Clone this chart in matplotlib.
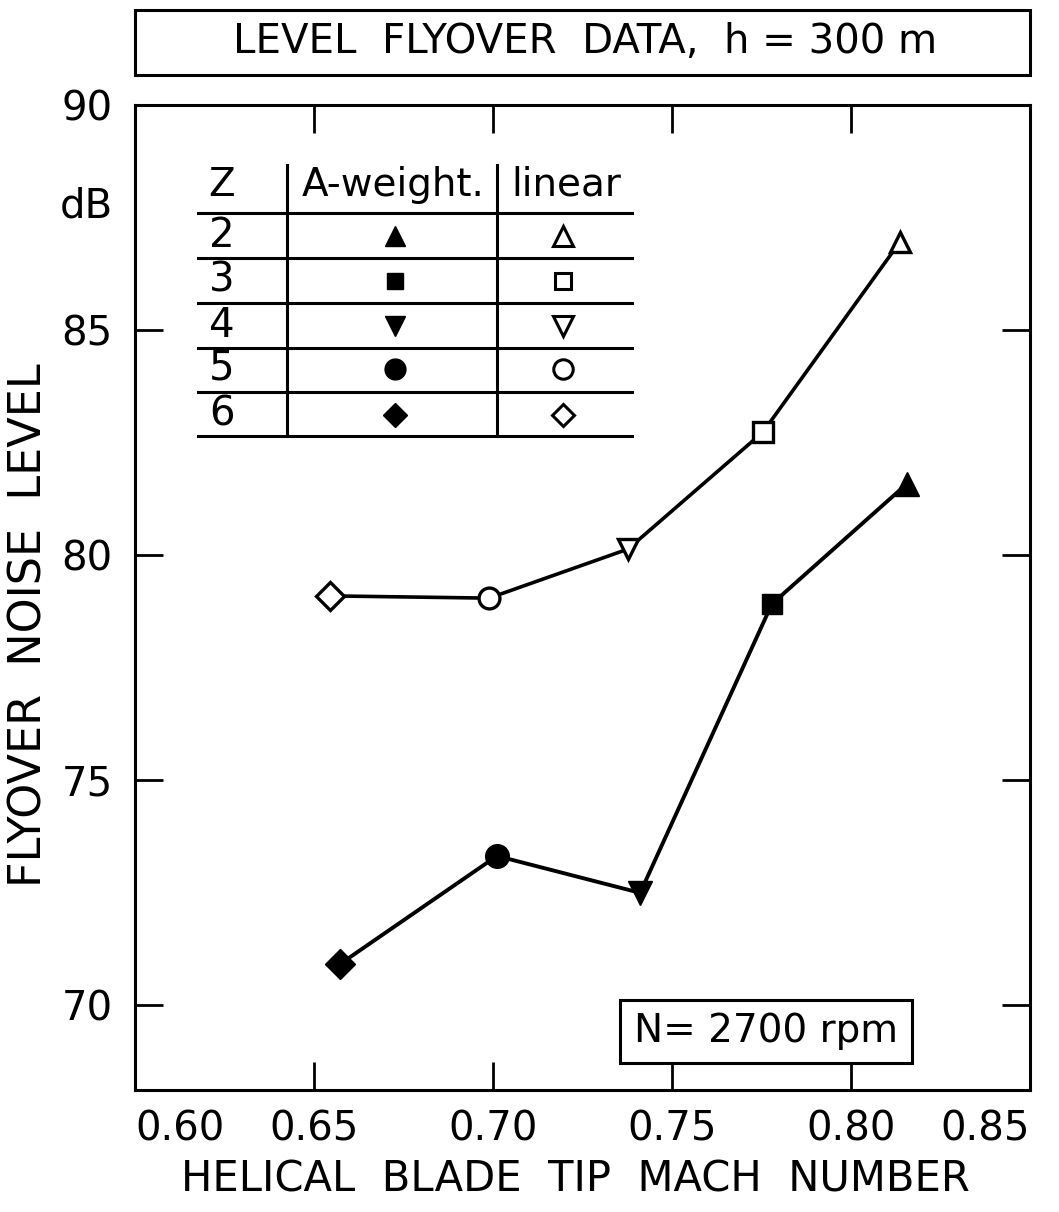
import matplotlib
matplotlib.use("Agg")
import matplotlib.pyplot as plt
from matplotlib.patches import Rectangle

plt.rcParams['font.family'] = ['DejaVu Sans']

# Number of blades Z for each rotor configuration
z_values = [6, 5, 4, 3, 2]
markers = ['D', 'o', 'v', 's', '^']

# Helical blade tip Mach number and flyover noise level (dB)
mach_linear = [0.6545, 0.6989, 0.7377, 0.7754, 0.8137]
level_linear = [79.09, 79.04, 80.13, 82.73, 86.96]
mach_aweight = [0.6573, 0.7011, 0.7411, 0.7779, 0.8156]
level_aweight = [70.91, 73.31, 72.49, 78.91, 81.58]

x_ticks = [0.60, 0.65, 0.70, 0.75, 0.80, 0.85]
x_tick_labels = ['0.60', '0.65', '0.70', '0.75', '0.80', '0.85']
y_ticks = [70, 75, 80, 85, 90]
y_tick_labels = ['70', '75', '80', '85', '90']

fig = plt.figure(figsize=(10.59, 12.12), dpi=100)
ax = fig.add_axes([0.1275, 0.1007, 0.8451, 0.8127])
ax.set_xlim(0.60, 0.85)
ax.set_ylim(68.11, 90)

for s in ax.spines.values():
    s.set_linewidth(2.2)

# Data lines and markers
ax.plot(mach_linear, level_linear, color='black', lw=2.6, zorder=2)
ax.plot(mach_aweight, level_aweight, color='black', lw=2.8, zorder=2)
for xv, yv, m in zip(mach_linear, level_linear, markers):
    ms = 14 if m in 'Ds' else 15
    ax.plot(xv, yv, marker=m, ms=ms, mfc='white', mec='black', mew=2.4, zorder=3)
for xv, yv, m in zip(mach_aweight, level_aweight, markers):
    ms = 15 if m in 'Ds' else 17
    ax.plot(xv, yv, marker=m, ms=ms, mfc='black', mec='black', mew=1, zorder=3)

# Ticks
tick_font = dict(fontsize=29)
ax.set_xticks(x_ticks)
ax.set_xticklabels(x_tick_labels, **tick_font)
ax.set_yticks(y_ticks)
ax.set_yticklabels(y_tick_labels, **tick_font)
labels = ax.get_xticklabels()
labels[0].set_horizontalalignment('left')
labels[-1].set_horizontalalignment('right')
ax.tick_params(axis='both', direction='in', length=20, width=2.0,
               top=True, right=True)
ax.tick_params(axis='x', pad=14)
ax.tick_params(axis='y', pad=16)
# frame corners carry no tick marks
for t in ax.xaxis.get_major_ticks():
    if abs(t.get_loc() - 0.60) < 1e-6 or abs(t.get_loc() - 0.85) < 1e-6:
        t.tick1line.set_visible(False)
        t.tick2line.set_visible(False)
for t in ax.yaxis.get_major_ticks():
    if abs(t.get_loc() - 90) < 1e-6:
        t.tick1line.set_visible(False)
        t.tick2line.set_visible(False)

ax.text(-0.025, 0.897, 'dB', transform=ax.transAxes, fontsize=29,
        ha='right', va='center')

# Axis titles
fig.text(575 / 1059, 1 - 1180 / 1212, 'HELICAL  BLADE  TIP  MACH  NUMBER',
         fontsize=30, ha='center', va='center')
fig.text(29 / 1059, 1 - 625 / 1212, 'FLYOVER  NOISE  LEVEL', fontsize=32,
         ha='center', va='center', rotation=90)

# Key table
tr = ax.transAxes
tlw = 2.2
row_lines = [0.8904, 0.8447, 0.7990, 0.7533, 0.7086, 0.6640]
for yl in row_lines:
    ax.plot([0.0704, 0.5553], [yl, yl], transform=tr, color='black', lw=tlw)
for xl in [0.1698, 0.4045]:
    ax.plot([xl, xl], [0.6640, 0.9391], transform=tr, color='black', lw=tlw)

ax.text(0.0972, 0.9188, 'Z', transform=tr, fontsize=28, ha='center', va='center')
ax.text(0.288, 0.9188, 'A-weight.', transform=tr, fontsize=28, ha='center', va='center')
ax.text(0.4816, 0.9188, 'linear', transform=tr, fontsize=28, ha='center', va='center')

row_y = [0.6853, 0.7320, 0.7756, 0.8213, 0.8670]
for z, m, ry in zip(z_values, markers, row_y):
    ax.text(0.0972, ry, str(z), transform=tr, fontsize=29, ha='center', va='center')
    ms = 12 if m in 'Ds' else 15
    ax.plot(0.2905, ry, marker=m, ms=ms, mfc='black', mec='black', transform=tr)
    ax.plot(0.4782, ry, marker=m, ms=ms - 1, mfc='white', mec='black', mew=2.2,
            transform=tr)

# Rotor speed box
ax.add_patch(Rectangle((0.5419, 0.0274), 0.3263, 0.064, transform=tr,
                       fill=False, lw=2.2, ec='black'))
ax.text(0.705, 0.0594, 'N= 2700 rpm', transform=tr, fontsize=28,
        ha='center', va='center')

# Title box
fig.patches.append(Rectangle((0.1275, 0.9381), 0.8451, 0.0536,
                             transform=fig.transFigure, fill=False,
                             lw=2.2, ec='black'))
fig.text(0.5524, 0.9653, 'LEVEL  FLYOVER  DATA,  h = 300 m', fontsize=29,
         ha='center', va='center')

fig.savefig('out.png', dpi=100)
